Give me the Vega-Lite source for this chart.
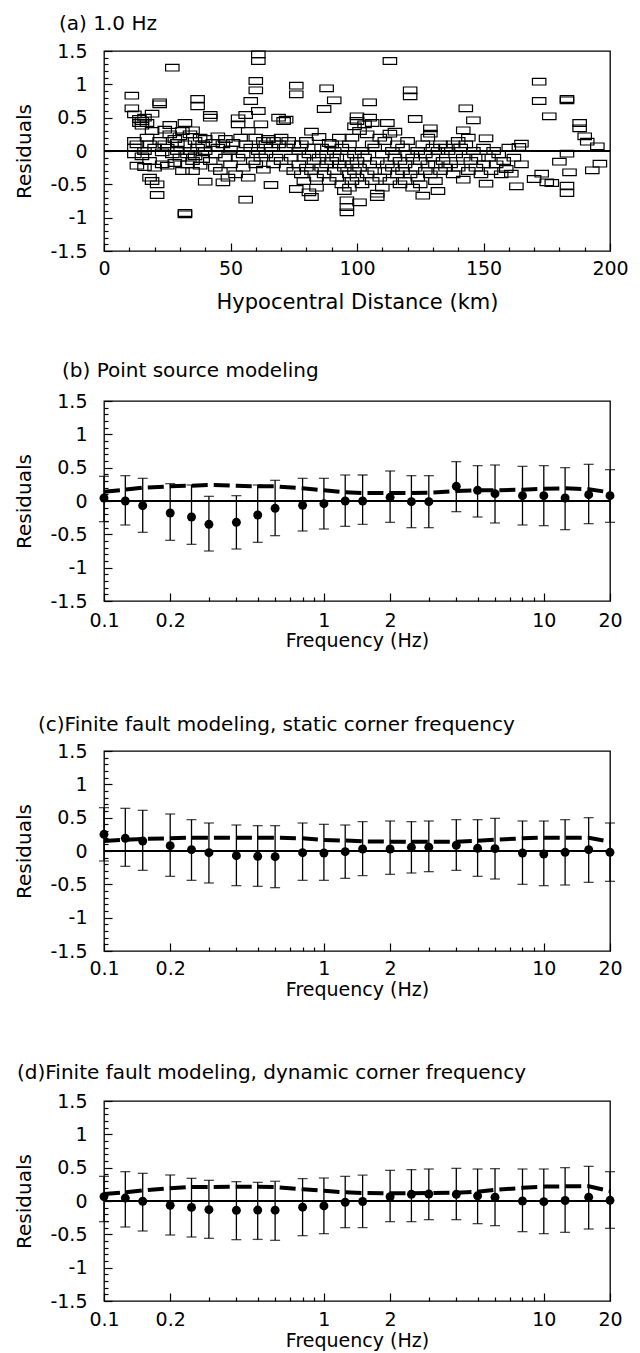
{
  "$schema": "https://vega.github.io/schema/vega-lite/v6.json",
  "background": "white",
  "padding": {"left": 13, "top": 13, "right": 0, "bottom": 0},
  "spacing": 150,
  "bounds": "flush",
  "datasets": {
    "pa": [
      {"d":11,"r":0.83},{"d":11,"r":0.64},{"d":12,"r":0.55},{"d":12,"r":0.15},{"d":12,"r":0.05},{"d":12,"r":-0.05},{"d":13,"r":-0.22},{"d":13,"r":0.1},{"d":14,"r":0.42},{"d":14,"r":0.48},{"d":15,"r":0.38},{"d":15,"r":0.45},{"d":15,"r":-0.08},{"d":16,"r":0.5},{"d":16,"r":0.0},{"d":16,"r":-0.24},{"d":17,"r":0.42},{"d":17,"r":0.2},{"d":18,"r":-0.15},{"d":18,"r":0.1},{"d":18,"r":-0.4},{"d":19,"r":0.56},{"d":19,"r":-0.45},{"d":19,"r":0.3},{"d":20,"r":0.05},{"d":20,"r":-0.25},
      {"d":21,"r":-0.66},{"d":21,"r":-0.5},{"d":22,"r":0.73},{"d":22,"r":0.7},{"d":22,"r":0.15},{"d":23,"r":-0.02},{"d":23,"r":-0.2},{"d":24,"r":0.32},{"d":24,"r":0.1},{"d":25,"r":-0.22},{"d":25,"r":0.05},{"d":26,"r":0.39},{"d":26,"r":0.25},{"d":27,"r":1.25},{"d":27,"r":-0.05},{"d":28,"r":0.18},{"d":28,"r":-0.18},{"d":29,"r":0.0},{"d":29,"r":0.12},{"d":30,"r":-0.1},{"d":30,"r":0.22},
      {"d":31,"r":0.3},{"d":31,"r":-0.3},{"d":32,"r":0.42},{"d":32,"r":-0.95},{"d":32,"r":-0.93},{"d":32,"r":0.1},{"d":33,"r":-0.05},{"d":33,"r":-0.2},{"d":34,"r":0.25},{"d":34,"r":0.0},{"d":35,"r":0.31},{"d":35,"r":-0.15},{"d":35,"r":-0.3},{"d":36,"r":0.15},{"d":36,"r":-0.08},{"d":37,"r":0.78},{"d":37,"r":0.67},{"d":37,"r":0.05},{"d":38,"r":-0.22},{"d":38,"r":0.2},{"d":39,"r":0.1},{"d":39,"r":-0.12},{"d":40,"r":-0.46},{"d":40,"r":0.0},{"d":40,"r":0.18},
      {"d":42,"r":0.54},{"d":42,"r":0.5},{"d":42,"r":-0.15},{"d":43,"r":0.12},{"d":44,"r":-0.05},{"d":44,"r":-0.25},{"d":45,"r":0.22},{"d":45,"r":0.05},{"d":46,"r":-0.3},{"d":47,"r":-0.47},{"d":47,"r":0.1},{"d":48,"r":-0.1},{"d":48,"r":0.18},{"d":49,"r":-0.4},{"d":50,"r":0.02},{"d":50,"r":-0.2},
      {"d":51,"r":0.12},{"d":52,"r":-0.35},{"d":53,"r":0.49},{"d":53,"r":0.4},{"d":53,"r":-0.1},{"d":54,"r":0.2},{"d":55,"r":-0.05},{"d":55,"r":-0.25},{"d":56,"r":0.54},{"d":56,"r":-0.73},{"d":56,"r":0.1},{"d":57,"r":-0.4},{"d":57,"r":0.3},{"d":58,"r":0.75},{"d":58,"r":0.05},{"d":59,"r":-0.15},{"d":60,"r":1.05},{"d":60,"r":0.91},{"d":60,"r":0.2},{"d":60,"r":-0.2},{"d":61,"r":1.45},{"d":61,"r":1.35},{"d":61,"r":0.6},{"d":61,"r":0.0},{"d":62,"r":0.4},{"d":62,"r":-0.1},{"d":63,"r":0.15},{"d":63,"r":-0.28},{"d":64,"r":0.1},{"d":64,"r":-0.05},{"d":65,"r":0.18},
      {"d":66,"r":-0.51},{"d":66,"r":0.05},{"d":67,"r":0.15},{"d":67,"r":-0.2},{"d":68,"r":-0.1},{"d":69,"r":0.5},{"d":69,"r":0.1},{"d":70,"r":-0.15},{"d":70,"r":0.2},{"d":71,"r":0.45},{"d":72,"r":0.47},{"d":72,"r":0.05},{"d":72,"r":-0.25},{"d":73,"r":0.15},{"d":74,"r":-0.1},{"d":75,"r":-0.3},{"d":75,"r":0.1},
      {"d":76,"r":0.98},{"d":76,"r":0.85},{"d":76,"r":-0.57},{"d":77,"r":-0.2},{"d":77,"r":0.0},{"d":78,"r":-0.35},{"d":78,"r":0.1},{"d":79,"r":-0.1},{"d":79,"r":-0.45},{"d":80,"r":0.15},{"d":80,"r":-0.25},{"d":81,"r":-0.62},{"d":81,"r":-0.05},{"d":82,"r":-0.69},{"d":82,"r":0.29},{"d":82,"r":-0.3},{"d":83,"r":-0.15},{"d":83,"r":0.05},{"d":84,"r":-0.4},{"d":84,"r":-0.55},{"d":85,"r":0.21},{"d":85,"r":-0.1},{"d":86,"r":-0.25},{"d":86,"r":0.05},{"d":87,"r":0.63},{"d":87,"r":-0.35},{"d":88,"r":0.94},{"d":88,"r":-0.05},{"d":88,"r":-0.2},{"d":89,"r":0.12},{"d":89,"r":-0.45},{"d":90,"r":-0.15},{"d":90,"r":0.1},
      {"d":91,"r":0.76},{"d":91,"r":-0.3},{"d":91,"r":0.0},{"d":92,"r":-0.1},{"d":92,"r":-0.4},{"d":93,"r":0.2},{"d":93,"r":-0.2},{"d":94,"r":-0.5},{"d":94,"r":0.05},{"d":95,"r":-0.25},{"d":95,"r":-0.6},{"d":96,"r":-0.74},{"d":96,"r":-0.84},{"d":96,"r":-0.92},{"d":96,"r":-0.1},{"d":97,"r":-0.35},{"d":97,"r":0.1},{"d":97,"r":-0.55},{"d":98,"r":0.2},{"d":98,"r":-0.2},{"d":98,"r":-0.45},{"d":99,"r":0.37},{"d":99,"r":-0.05},{"d":99,"r":-0.3},{"d":100,"r":0.52},{"d":100,"r":0.45},{"d":100,"r":-0.15},{"d":100,"r":-0.4},{"d":101,"r":-0.77},{"d":101,"r":0.3},{"d":101,"r":-0.25},{"d":102,"r":0.0},{"d":102,"r":-0.5},{"d":103,"r":0.4},{"d":103,"r":-0.1},{"d":104,"r":0.25},{"d":104,"r":-0.35},{"d":105,"r":0.73},{"d":105,"r":0.5},{"d":105,"r":-0.2},{"d":106,"r":0.42},{"d":106,"r":0.1},{"d":106,"r":-0.45},{"d":107,"r":-0.3},{"d":107,"r":0.05},{"d":108,"r":-0.64},{"d":108,"r":-0.69},{"d":108,"r":-0.15},{"d":109,"r":0.2},{"d":109,"r":-0.4},{"d":110,"r":-0.55},{"d":110,"r":-0.05},
      {"d":111,"r":0.15},{"d":111,"r":-0.3},{"d":112,"r":0.42},{"d":112,"r":-0.2},{"d":113,"r":1.35},{"d":113,"r":0.26},{"d":113,"r":-0.45},{"d":114,"r":0.0},{"d":114,"r":-0.25},{"d":115,"r":0.29},{"d":115,"r":-0.1},{"d":116,"r":-0.35},{"d":116,"r":0.1},{"d":117,"r":-0.5},{"d":117,"r":-0.15},{"d":118,"r":0.05},{"d":118,"r":-0.3},{"d":119,"r":-0.2},{"d":119,"r":-0.45},{"d":120,"r":0.15},{"d":120,"r":-0.05},{"d":121,"r":0.91},{"d":121,"r":0.82},{"d":121,"r":-0.35},{"d":122,"r":-0.55},{"d":122,"r":-0.1},{"d":123,"r":0.48},{"d":123,"r":-0.25},{"d":124,"r":0.0},{"d":124,"r":-0.4},{"d":125,"r":-0.15},{"d":125,"r":-0.5},{"d":126,"r":-0.67},{"d":126,"r":0.1},{"d":127,"r":-0.3},{"d":127,"r":-0.05},{"d":128,"r":0.2},{"d":128,"r":-0.2},{"d":129,"r":0.34},{"d":129,"r":0.26},{"d":129,"r":-0.35},{"d":130,"r":-0.1},{"d":130,"r":0.05},{"d":131,"r":-0.45},{"d":131,"r":-0.2},{"d":132,"r":-0.6},{"d":132,"r":0.0},{"d":133,"r":-0.3},{"d":133,"r":0.1},{"d":134,"r":-0.15},{"d":135,"r":-0.25},{"d":135,"r":0.05},
      {"d":136,"r":0.0},{"d":137,"r":-0.2},{"d":138,"r":0.1},{"d":138,"r":-0.35},{"d":139,"r":-0.05},{"d":140,"r":0.15},{"d":140,"r":-0.25},{"d":141,"r":0.05},{"d":142,"r":0.31},{"d":142,"r":-0.43},{"d":142,"r":-0.1},{"d":143,"r":0.64},{"d":143,"r":0.1},{"d":144,"r":-0.3},{"d":144,"r":0.2},{"d":145,"r":-0.15},{"d":146,"r":0.46},{"d":146,"r":0.0},{"d":147,"r":-0.25},{"d":148,"r":-0.1},{"d":149,"r":-0.35},{"d":150,"r":0.05},{"d":150,"r":-0.2},
      {"d":151,"r":0.19},{"d":151,"r":-0.49},{"d":152,"r":-0.1},{"d":153,"r":-0.3},{"d":154,"r":0.0},{"d":155,"r":-0.2},{"d":156,"r":-0.05},{"d":157,"r":-0.35},{"d":158,"r":-0.15},{"d":159,"r":-0.27},{"d":160,"r":0.05},{"d":161,"r":-0.34},{"d":162,"r":-0.1},{"d":163,"r":-0.53},{"d":164,"r":0.06},{"d":165,"r":0.11},{"d":165,"r":-0.2},
      {"d":170,"r":-0.42},{"d":172,"r":1.04},{"d":172,"r":0.75},{"d":173,"r":-0.34},{"d":175,"r":-0.47},{"d":176,"r":0.52},{"d":177,"r":-0.48},{"d":180,"r":-0.16},{"d":183,"r":0.78},{"d":183,"r":0.76},{"d":183,"r":-0.04},{"d":183,"r":-0.52},{"d":183,"r":-0.63},{"d":184,"r":-0.32},{"d":188,"r":0.42},{"d":188,"r":0.34},{"d":190,"r":0.22},{"d":191,"r":0.14},{"d":193,"r":-0.29},{"d":195,"r":0.07},{"d":196,"r":-0.19}
    ],
    "pb": [
      {"f":0.1,"r":0.045,"lo":-0.31,"hi":0.37,"s":0.14},
      {"f":0.125,"r":0.0,"lo":-0.36,"hi":0.38,"s":0.17},
      {"f":0.15,"r":-0.07,"lo":-0.47,"hi":0.34,"s":0.2},
      {"f":0.2,"r":-0.18,"lo":-0.59,"hi":0.26,"s":0.22},
      {"f":0.25,"r":-0.24,"lo":-0.65,"hi":0.24,"s":0.23},
      {"f":0.3,"r":-0.35,"lo":-0.75,"hi":0.07,"s":0.24},
      {"f":0.4,"r":-0.32,"lo":-0.72,"hi":0.08,"s":0.23},
      {"f":0.5,"r":-0.21,"lo":-0.62,"hi":0.24,"s":0.22},
      {"f":0.6,"r":-0.11,"lo":-0.52,"hi":0.31,"s":0.22},
      {"f":0.8,"r":-0.065,"lo":-0.45,"hi":0.34,"s":0.19},
      {"f":1.0,"r":-0.04,"lo":-0.42,"hi":0.34,"s":0.16},
      {"f":1.25,"r":0.0,"lo":-0.38,"hi":0.39,"s":0.13},
      {"f":1.5,"r":0.0,"lo":-0.35,"hi":0.39,"s":0.12},
      {"f":2.0,"r":0.055,"lo":-0.32,"hi":0.45,"s":0.12},
      {"f":2.5,"r":-0.01,"lo":-0.4,"hi":0.38,"s":0.12},
      {"f":3.0,"r":-0.01,"lo":-0.4,"hi":0.38,"s":0.125},
      {"f":4.0,"r":0.22,"lo":-0.16,"hi":0.59,"s":0.15},
      {"f":5.0,"r":0.16,"lo":-0.24,"hi":0.53,"s":0.16},
      {"f":6.0,"r":0.11,"lo":-0.33,"hi":0.54,"s":0.16},
      {"f":8.0,"r":0.08,"lo":-0.36,"hi":0.52,"s":0.17},
      {"f":10,"r":0.08,"lo":-0.37,"hi":0.53,"s":0.185},
      {"f":12.5,"r":0.045,"lo":-0.43,"hi":0.5,"s":0.19},
      {"f":16,"r":0.095,"lo":-0.34,"hi":0.55,"s":0.175},
      {"f":20,"r":0.08,"lo":-0.32,"hi":0.47,"s":0.13}
    ],
    "pc": [
      {"f":0.1,"r":0.25,"lo":-0.15,"hi":0.65,"s":0.15},
      {"f":0.125,"r":0.19,"lo":-0.23,"hi":0.64,"s":0.17},
      {"f":0.15,"r":0.15,"lo":-0.29,"hi":0.61,"s":0.18},
      {"f":0.2,"r":0.08,"lo":-0.38,"hi":0.555,"s":0.19},
      {"f":0.25,"r":0.02,"lo":-0.44,"hi":0.47,"s":0.2},
      {"f":0.3,"r":-0.025,"lo":-0.48,"hi":0.42,"s":0.2},
      {"f":0.4,"r":-0.07,"lo":-0.52,"hi":0.39,"s":0.2},
      {"f":0.5,"r":-0.08,"lo":-0.53,"hi":0.38,"s":0.2},
      {"f":0.6,"r":-0.085,"lo":-0.55,"hi":0.38,"s":0.2},
      {"f":0.8,"r":-0.025,"lo":-0.44,"hi":0.42,"s":0.19},
      {"f":1.0,"r":-0.03,"lo":-0.44,"hi":0.4,"s":0.165},
      {"f":1.25,"r":-0.01,"lo":-0.41,"hi":0.39,"s":0.157},
      {"f":1.5,"r":0.03,"lo":-0.37,"hi":0.44,"s":0.145},
      {"f":2.0,"r":0.03,"lo":-0.35,"hi":0.45,"s":0.14},
      {"f":2.5,"r":0.055,"lo":-0.33,"hi":0.44,"s":0.14},
      {"f":3.0,"r":0.057,"lo":-0.31,"hi":0.45,"s":0.14},
      {"f":4.0,"r":0.086,"lo":-0.29,"hi":0.47,"s":0.14},
      {"f":5.0,"r":0.04,"lo":-0.38,"hi":0.47,"s":0.155},
      {"f":6.0,"r":0.035,"lo":-0.42,"hi":0.49,"s":0.17},
      {"f":8.0,"r":-0.03,"lo":-0.5,"hi":0.45,"s":0.19},
      {"f":10,"r":-0.045,"lo":-0.52,"hi":0.45,"s":0.2},
      {"f":12.5,"r":-0.02,"lo":-0.51,"hi":0.47,"s":0.2},
      {"f":16,"r":0.02,"lo":-0.47,"hi":0.5,"s":0.2},
      {"f":20,"r":-0.02,"lo":-0.455,"hi":0.42,"s":0.14}
    ],
    "pd": [
      {"f":0.1,"r":0.066,"lo":-0.31,"hi":0.37,"s":0.106},
      {"f":0.125,"r":0.044,"lo":-0.39,"hi":0.44,"s":0.13},
      {"f":0.15,"r":-0.004,"lo":-0.45,"hi":0.415,"s":0.16},
      {"f":0.2,"r":-0.065,"lo":-0.51,"hi":0.39,"s":0.19},
      {"f":0.25,"r":-0.096,"lo":-0.54,"hi":0.34,"s":0.21},
      {"f":0.3,"r":-0.13,"lo":-0.56,"hi":0.31,"s":0.21},
      {"f":0.4,"r":-0.14,"lo":-0.58,"hi":0.29,"s":0.215},
      {"f":0.5,"r":-0.136,"lo":-0.576,"hi":0.28,"s":0.215},
      {"f":0.6,"r":-0.138,"lo":-0.59,"hi":0.296,"s":0.21},
      {"f":0.8,"r":-0.093,"lo":-0.52,"hi":0.336,"s":0.175},
      {"f":1.0,"r":-0.074,"lo":-0.49,"hi":0.345,"s":0.153},
      {"f":1.25,"r":-0.02,"lo":-0.4,"hi":0.37,"s":0.13},
      {"f":1.5,"r":-0.007,"lo":-0.4,"hi":0.387,"s":0.12},
      {"f":2.0,"r":0.064,"lo":-0.31,"hi":0.46,"s":0.115},
      {"f":2.5,"r":0.1,"lo":-0.31,"hi":0.47,"s":0.118},
      {"f":3.0,"r":0.105,"lo":-0.28,"hi":0.48,"s":0.12},
      {"f":4.0,"r":0.1,"lo":-0.28,"hi":0.49,"s":0.125},
      {"f":5.0,"r":0.078,"lo":-0.34,"hi":0.48,"s":0.14},
      {"f":6.0,"r":0.056,"lo":-0.37,"hi":0.485,"s":0.167},
      {"f":8.0,"r":0.0,"lo":-0.46,"hi":0.48,"s":0.197},
      {"f":10,"r":-0.01,"lo":-0.49,"hi":0.48,"s":0.216},
      {"f":12.5,"r":0.008,"lo":-0.47,"hi":0.5,"s":0.22},
      {"f":16,"r":0.057,"lo":-0.42,"hi":0.52,"s":0.22},
      {"f":20,"r":0.01,"lo":-0.41,"hi":0.44,"s":0.15}
    ]
  },
  "vconcat": [
    {
      "width": 506, "height": 200,
      "title": {"text": "(a) 1.0 Hz", "anchor": "start", "frame": "group", "dx": -45, "baseline": "alphabetic", "offset": -8},
      "data": {"name": "pa"},
      "resolve": {"axis": {"x": "independent", "y": "independent"}},
      "layer": [
        {"mark": {"type": "rule", "color": "black", "strokeWidth": 1.2},
         "encoding": {
           "x": {"datum": 0, "type": "quantitative", "axis": {"orient": "bottom", "values": [10,20,30,40,60,70,80,90,110,120,130,140,160,170,180,190], "tickSize": -4, "labels": false, "title": null}},
           "x2": {"datum": 200},
           "y": {"datum": 0, "type": "quantitative", "axis": {"orient": "left", "values": [-1.4,-1.3,-1.2,-1.1,-0.9,-0.8,-0.7,-0.6,-0.4,-0.3,-0.2,-0.1,0.1,0.2,0.3,0.4,0.6,0.7,0.8,0.9,1.1,1.2,1.3,1.4], "tickSize": -4, "labels": false, "title": null}}
         }},
        {
          "mark": {"type": "point", "shape": "M -1 -0.5 L 1 -0.5 L 1 0.5 L -1 0.5 Z", "size": 180, "filled": false, "color": "black", "strokeWidth": 1.2, "opacity": 1},
          "encoding": {
            "x": {"field": "d", "type": "quantitative", "scale": {"domain": [0, 200], "nice": false, "zero": false},
              "axis": {"orient": "bottom", "values": [0,50,100,150,200], "tickSize": -8,
                "labelExpr": "format(datum.value, '')",
                "labelPadding": 16, "labelBaseline": "top",
                "title": "Hypocentral Distance (km)", "titleFontSize": 21, "titleX": 253, "titleY": 57, "titleBaseline": "alphabetic", "titleAlign": "center"}},
            "y": {"field": "r", "type": "quantitative", "scale": {"domain": [-1.5, 1.5], "nice": false, "zero": false},
              "axis": {"orient": "left", "values": [-1.5,-1,-0.5,0,0.5,1,1.5], "tickSize": -8,
                "labelExpr": "replace(format(datum.value, ''), '\u2212', '-')",
                "labelPadding": 25,
                "title": "Residuals", "titleFontSize": 20, "titleX": -74, "titleY": 100, "titleAngle": -90, "titleBaseline": "alphabetic", "titleAlign": "center"}}
          }
        }
      ]
    },
    {
      "width": 506, "height": 200,
      "title": {"text": "(b) Point source modeling", "anchor": "start", "frame": "group", "dx": -42, "baseline": "alphabetic", "offset": -5},
      "data": {"name": "pb"},
      "resolve": {"axis": {"x": "independent", "y": "independent"}},
      "layer": [
        {"mark": {"type": "rule", "color": "black", "strokeWidth": 1.2}, "encoding": {"y": {"datum": 0, "type": "quantitative", "axis": null}}},
        {"mark": {"type": "errorbar", "ticks": {"size": 10, "thickness": 1.3, "color": "black"}, "rule": {"strokeWidth": 1.3, "color": "black"}},
         "encoding": {"x": {"field": "f", "type": "quantitative", "axis": null}, "y": {"field": "lo", "type": "quantitative", "axis": null}, "y2": {"field": "hi"}}},
        {"mark": {"type": "line", "strokeDash": [16, 6], "strokeWidth": 4, "color": "black"},
         "encoding": {
           "x": {"field": "f", "type": "quantitative", "axis": {"orient": "bottom", "values": [0.3,0.4,0.5,0.6,0.7,0.8,0.9,3,4,5,6,7,8,9], "tickSize": -4, "labels": false, "title": null}},
           "y": {"field": "s", "type": "quantitative", "axis": {"orient": "left", "values": [-1.4,-1.3,-1.2,-1.1,-0.9,-0.8,-0.7,-0.6,-0.4,-0.3,-0.2,-0.1,0.1,0.2,0.3,0.4,0.6,0.7,0.8,0.9,1.1,1.2,1.3,1.4], "tickSize": -4, "labels": false, "title": null}}}},
        {"mark": {"type": "circle", "size": 80, "color": "black", "opacity": 1},
         "encoding": {
            "x": {"field": "f", "type": "quantitative", "scale": {"type": "log", "domain": [0.1, 20], "nice": false},
              "axis": {"orient": "bottom", "values": [0.1,0.2,1,2,10,20], "tickSize": -8,
                "labelExpr": "format(datum.value, '')",
                "labelPadding": 18, "labelBaseline": "top",
                "title": "Frequency (Hz)", "titleFontSize": 19, "titleX": 253, "titleY": 45, "titleBaseline": "alphabetic", "titleAlign": "center"}},
            "y": {"field": "r", "type": "quantitative", "scale": {"domain": [-1.5, 1.5], "nice": false, "zero": false},
              "axis": {"orient": "left", "values": [-1.5,-1,-0.5,0,0.5,1,1.5], "tickSize": -8,
                "labelExpr": "replace(format(datum.value, ''), '\u2212', '-')",
                "labelPadding": 25,
                "title": "Residuals", "titleFontSize": 20, "titleX": -74, "titleY": 100, "titleAngle": -90, "titleBaseline": "alphabetic", "titleAlign": "center"}}
         }}
      ]
    },
    {
      "width": 506, "height": 200,
      "title": {"text": "(c)Finite fault modeling, static corner frequency", "anchor": "start", "frame": "group", "dx": -66, "baseline": "alphabetic", "offset": -9},
      "data": {"name": "pc"},
      "resolve": {"axis": {"x": "independent", "y": "independent"}},
      "layer": [
        {"mark": {"type": "rule", "color": "black", "strokeWidth": 1.2}, "encoding": {"y": {"datum": 0, "type": "quantitative", "axis": null}}},
        {"mark": {"type": "errorbar", "ticks": {"size": 10, "thickness": 1.3, "color": "black"}, "rule": {"strokeWidth": 1.3, "color": "black"}},
         "encoding": {"x": {"field": "f", "type": "quantitative", "axis": null}, "y": {"field": "lo", "type": "quantitative", "axis": null}, "y2": {"field": "hi"}}},
        {"mark": {"type": "line", "strokeDash": [16, 6], "strokeWidth": 4, "color": "black"},
         "encoding": {
           "x": {"field": "f", "type": "quantitative", "axis": {"orient": "bottom", "values": [0.3,0.4,0.5,0.6,0.7,0.8,0.9,3,4,5,6,7,8,9], "tickSize": -4, "labels": false, "title": null}},
           "y": {"field": "s", "type": "quantitative", "axis": {"orient": "left", "values": [-1.4,-1.3,-1.2,-1.1,-0.9,-0.8,-0.7,-0.6,-0.4,-0.3,-0.2,-0.1,0.1,0.2,0.3,0.4,0.6,0.7,0.8,0.9,1.1,1.2,1.3,1.4], "tickSize": -4, "labels": false, "title": null}}}},
        {"mark": {"type": "circle", "size": 80, "color": "black", "opacity": 1},
         "encoding": {
            "x": {"field": "f", "type": "quantitative", "scale": {"type": "log", "domain": [0.1, 20], "nice": false},
              "axis": {"orient": "bottom", "values": [0.1,0.2,1,2,10,20], "tickSize": -8,
                "labelExpr": "format(datum.value, '')",
                "labelPadding": 16, "labelBaseline": "top",
                "title": "Frequency (Hz)", "titleFontSize": 19, "titleX": 253, "titleY": 44, "titleBaseline": "alphabetic", "titleAlign": "center"}},
            "y": {"field": "r", "type": "quantitative", "scale": {"domain": [-1.5, 1.5], "nice": false, "zero": false},
              "axis": {"orient": "left", "values": [-1.5,-1,-0.5,0,0.5,1,1.5], "tickSize": -8,
                "labelExpr": "replace(format(datum.value, ''), '\u2212', '-')",
                "labelPadding": 25,
                "title": "Residuals", "titleFontSize": 20, "titleX": -74, "titleY": 100, "titleAngle": -90, "titleBaseline": "alphabetic", "titleAlign": "center"}}
         }}
      ]
    },
    {
      "width": 506, "height": 200,
      "title": {"text": "(d)Finite fault modeling, dynamic corner frequency", "anchor": "start", "frame": "group", "dx": -87, "baseline": "alphabetic", "offset": -7},
      "data": {"name": "pd"},
      "resolve": {"axis": {"x": "independent", "y": "independent"}},
      "layer": [
        {"mark": {"type": "rule", "color": "black", "strokeWidth": 1.2}, "encoding": {"y": {"datum": 0, "type": "quantitative", "axis": null}}},
        {"mark": {"type": "errorbar", "ticks": {"size": 10, "thickness": 1.3, "color": "black"}, "rule": {"strokeWidth": 1.3, "color": "black"}},
         "encoding": {"x": {"field": "f", "type": "quantitative", "axis": null}, "y": {"field": "lo", "type": "quantitative", "axis": null}, "y2": {"field": "hi"}}},
        {"mark": {"type": "line", "strokeDash": [16, 6], "strokeWidth": 4, "color": "black"},
         "encoding": {
           "x": {"field": "f", "type": "quantitative", "axis": {"orient": "bottom", "values": [0.3,0.4,0.5,0.6,0.7,0.8,0.9,3,4,5,6,7,8,9], "tickSize": -4, "labels": false, "title": null}},
           "y": {"field": "s", "type": "quantitative", "axis": {"orient": "left", "values": [-1.4,-1.3,-1.2,-1.1,-0.9,-0.8,-0.7,-0.6,-0.4,-0.3,-0.2,-0.1,0.1,0.2,0.3,0.4,0.6,0.7,0.8,0.9,1.1,1.2,1.3,1.4], "tickSize": -4, "labels": false, "title": null}}}},
        {"mark": {"type": "circle", "size": 80, "color": "black", "opacity": 1},
         "encoding": {
            "x": {"field": "f", "type": "quantitative", "scale": {"type": "log", "domain": [0.1, 20], "nice": false},
              "axis": {"orient": "bottom", "values": [0.1,0.2,1,2,10,20], "tickSize": -8,
                "labelExpr": "format(datum.value, '')",
                "labelPadding": 17, "labelBaseline": "top",
                "title": "Frequency (Hz)", "titleFontSize": 19, "titleX": 253, "titleY": 45, "titleBaseline": "alphabetic", "titleAlign": "center"}},
            "y": {"field": "r", "type": "quantitative", "scale": {"domain": [-1.5, 1.5], "nice": false, "zero": false},
              "axis": {"orient": "left", "values": [-1.5,-1,-0.5,0,0.5,1,1.5], "tickSize": -8,
                "labelExpr": "replace(format(datum.value, ''), '\u2212', '-')",
                "labelPadding": 25,
                "title": "Residuals", "titleFontSize": 20, "titleX": -74, "titleY": 100, "titleAngle": -90, "titleBaseline": "alphabetic", "titleAlign": "center"}}
         }}
      ]
    }
  ],
  "config": {
    "font": "DejaVu Sans",
    "view": {"stroke": "black", "strokeWidth": 1.3},
    "title": {"font": "DejaVu Sans", "fontSize": 20, "fontWeight": "normal", "color": "black"},
    "axis": {"domain": false, "grid": false, "labelColor": "black", "labelFont": "DejaVu Sans", "labelFontSize": 19, "titleFont": "DejaVu Sans", "titleColor": "black", "titleFontWeight": "normal", "tickColor": "black", "tickWidth": 1.2, "labelFlush": false, "labelOverlap": false}
  }
}
